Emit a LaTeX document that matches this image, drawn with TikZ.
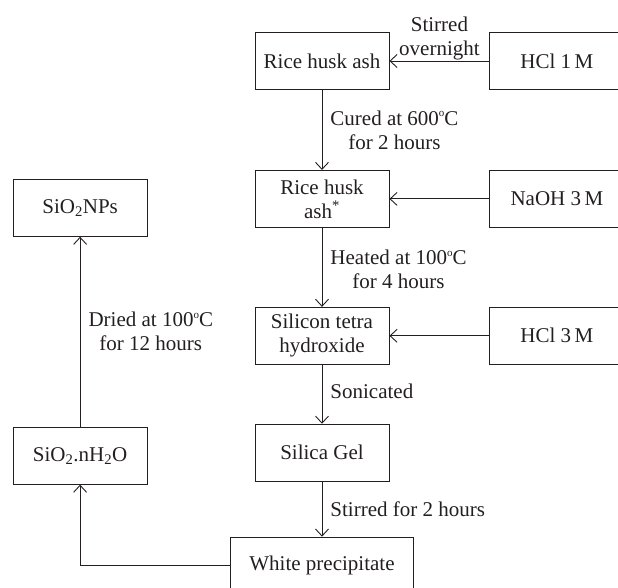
\documentclass[tikz,border=0pt]{standalone}
\usepackage{fontspec}
\setmainfont{Liberation Serif}
\usetikzlibrary{graphs,positioning,arrows.meta}
\definecolor{ink}{RGB}{35,31,32}
\newcommand\dgr{\raisebox{0.85ex}{\fontsize{11pt}{11pt}\selectfont o}}
\tikzset{
    stage/.style ={
        shape=rectangle,
        draw=ink,
        text=ink,
        line width=0.9pt,
        minimum width=134pt,
        minimum height=57pt,
        inner sep=2pt,
        align=center,
        font=\fontsize{21pt}{24pt}\selectfont
    },
    note/.style ={
        text=ink,
        inner sep=1pt,
        align=center,
        font=\fontsize{21pt}{24pt}\selectfont
    }
}

\begin{document}
\begin{tikzpicture}[x=1pt,y=-1pt,>={Straight Barb[length=7pt,width=13pt]},
    every edge/.style={draw=ink,line width=0.9pt}]
    \useasboundingbox (0,0) rectangle (618,588);
    \clip (0,0) rectangle (618,588);
    \node[stage] (ash) at (322,61) {Rice husk ash};
    \node[stage,below=80pt of ash] (ashstar) {Rice husk\\ash\textsuperscript{*}};
    \node[stage,below=79pt of ashstar] (silicon) {Silicon tetra\\hydroxide};
    \node[stage,below=59pt of silicon] (gel) {Silica Gel};
    \node[stage,below=55pt of gel,minimum width=183pt] (white) {White precipitate};
    \node[stage,right=100pt of ash] (hclone) {HCl 1\,M};
    \node[stage,right=100pt of ashstar] (naoh) {NaOH 3\,M};
    \node[stage,right=100pt of silicon] (hclthree) {HCl 3\,M};
    \node[stage,left=107pt of gel,yshift=-3pt] (hydrate) {SiO\textsubscript{2}.nH\textsubscript{2}O};
    \node[stage,above=190pt of hydrate] (nps) {SiO\textsubscript{2}NPs};
    \graph{
        (hclone) ->[edge node={node[note,above] {Stirred\\overnight}}] (ash);
        (ash) ->[edge node={node[note,right=7pt] {Cured at 600\dgr C\\for 2 hours}}] (ashstar);
        (naoh) -> (ashstar);
        (ashstar) ->[edge node={node[note,right=7pt,yshift=-2pt] {Heated at 100\dgr C\\for 4 hours}}] (silicon);
        (hclthree) -> (silicon);
        (silicon) ->[edge node={node[note,right=7pt,yshift=3pt] {Sonicated}}] (gel);
        (gel) ->[edge node={node[note,right=7pt] {Stirred for 2 hours}}] (white);
        (hydrate) ->[edge node={node[note,right=7pt] {Dried at 100\dgr C\\for 12 hours}}] (nps);
    };
    \draw[->,draw=ink,line width=0.9pt] (white) -| (hydrate);
\end{tikzpicture}
\end{document}
